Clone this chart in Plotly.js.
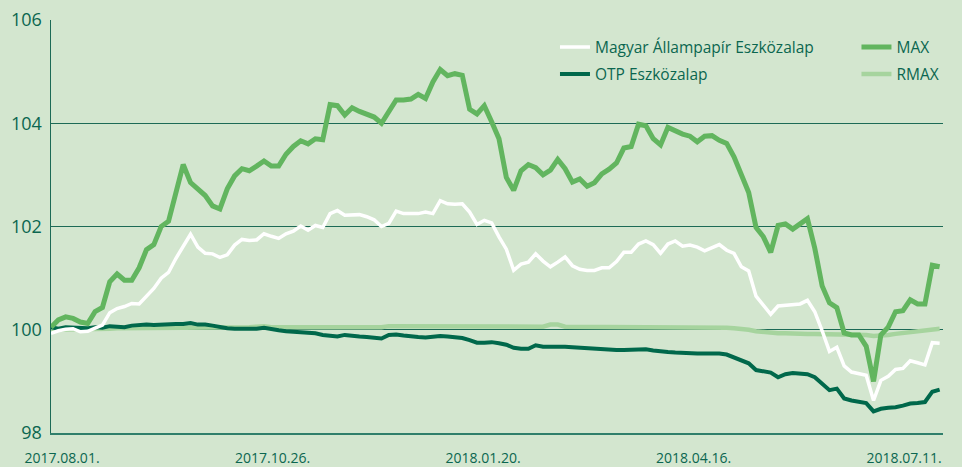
<!DOCTYPE html>
<html>
<head>
<meta charset="utf-8">
<script src="https://cdn.plot.ly/plotly-3.0.1.min.js"></script>
<style>html,body{margin:0;padding:0;background:#d3e6cf;}#chart{width:962px;height:467px;}</style>
</head>
<body>
<div id="chart"></div>
<script>
// Observation dates: every 3rd calendar day starting 2017-07-27 (noon)
const startDate = '2017-07-27T12:00:00Z';
const stepDays = 3;
const nPoints = 122;

const tickDates = ['2017-08-01', '2017-10-26', '2018-01-20', '2018-04-16', '2018-07-11'];
const tickLabels = ['2017.08.01.', '2017.10.26.', '2018.01.20.', '2018.04.16.', '2018.07.11.'];

const seriesNames = ['Magyar Állampapír Eszközalap', 'OTP Eszközalap', 'MAX', 'RMAX'];

const magyar = [
  99.93, 99.98, 100.01, 100.02, 99.96, 99.97, 100.03, 100.09, 100.33, 100.41,
  100.45, 100.51, 100.50, 100.65, 100.80, 101.00, 101.11, 101.38, 101.60, 101.85,
  101.60, 101.48, 101.47, 101.40, 101.45, 101.64, 101.75, 101.73, 101.74, 101.86,
  101.81, 101.77, 101.86, 101.91, 102.01, 101.93, 102.02, 101.98, 102.25, 102.31,
  102.22, 102.22, 102.23, 102.19, 102.13, 102.00, 102.06, 102.30, 102.25, 102.25,
  102.25, 102.28, 102.25, 102.50, 102.44, 102.43, 102.44, 102.28, 102.04, 102.12,
  102.07, 101.80, 101.56, 101.15, 101.27, 101.31, 101.47, 101.33, 101.22, 101.31,
  101.41, 101.24, 101.17, 101.15, 101.15, 101.20, 101.20, 101.32, 101.50, 101.50,
  101.66, 101.72, 101.65, 101.48, 101.66, 101.72, 101.62, 101.64, 101.60, 101.53,
  101.59, 101.65, 101.54, 101.48, 101.22, 101.14, 100.65, 100.47, 100.30, 100.46,
  100.47, 100.49, 100.50, 100.57, 100.35, 99.98, 99.58, 99.66, 99.30, 99.18,
  99.15, 99.12, 98.63, 99.02, 99.10, 99.23, 99.25, 99.40, 99.36, 99.32,
  99.75, 99.74
];

const otp = [
  100.05, 100.02, 100.05, 100.04, 100.04, 100.03, 100.05, 100.04, 100.07, 100.06,
  100.05, 100.08, 100.09, 100.10, 100.09, 100.10, 100.10, 100.11, 100.11, 100.13,
  100.10, 100.10, 100.08, 100.05, 100.03, 100.02, 100.02, 100.02, 100.02, 100.04,
  100.01, 99.99, 99.97, 99.96, 99.95, 99.95, 99.93, 99.90, 99.89, 99.87,
  99.90, 99.88, 99.87, 99.86, 99.85, 99.83, 99.90, 99.91, 99.89, 99.87,
  99.86, 99.85, 99.86, 99.88, 99.87, 99.86, 99.84, 99.80, 99.75, 99.75,
  99.76, 99.74, 99.71, 99.65, 99.63, 99.63, 99.70, 99.67, 99.67, 99.68,
  99.67, 99.66, 99.65, 99.64, 99.63, 99.62, 99.61, 99.61, 99.61, 99.61,
  99.61, 99.62, 99.60, 99.58, 99.57, 99.56, 99.55, 99.55, 99.54, 99.54,
  99.54, 99.54, 99.52, 99.46, 99.40, 99.35, 99.22, 99.20, 99.17, 99.08,
  99.14, 99.16, 99.15, 99.14, 99.08, 98.95, 98.83, 98.86, 98.67, 98.63,
  98.60, 98.58, 98.42, 98.47, 98.49, 98.50, 98.53, 98.57, 98.58, 98.60,
  98.80, 98.84
];

const max = [
  100.05, 100.19, 100.25, 100.22, 100.15, 100.12, 100.35, 100.43, 100.93, 101.08,
  100.96, 100.96, 101.20, 101.55, 101.65, 102.00, 102.10, 102.65, 103.20, 102.85,
  102.72, 102.60, 102.40, 102.34, 102.73, 102.98, 103.12, 103.08, 103.17, 103.27,
  103.17, 103.17, 103.40, 103.55, 103.66, 103.60, 103.70, 103.68, 104.36, 104.34,
  104.16, 104.30, 104.23, 104.17, 104.12, 104.00, 104.22, 104.45, 104.45, 104.47,
  104.56, 104.48, 104.80, 105.04, 104.92, 104.96, 104.93, 104.27, 104.18, 104.34,
  104.03, 103.70, 102.95, 102.70, 103.08, 103.20, 103.14, 103.00, 103.09, 103.30,
  103.12, 102.86, 102.92, 102.78, 102.85, 103.02, 103.11, 103.23, 103.52, 103.55,
  103.98, 103.95, 103.70, 103.58, 103.92, 103.85, 103.79, 103.75, 103.64, 103.75,
  103.76, 103.67, 103.61, 103.35, 102.98, 102.66, 101.98, 101.80, 101.50, 102.02,
  102.05, 101.95, 102.05, 102.15, 101.58, 100.85, 100.52, 100.43, 99.94, 99.90,
  99.90, 99.68, 99.00, 99.90, 100.05, 100.35, 100.37, 100.58, 100.50, 100.50,
  101.25, 101.22
];

const rmax = [
  100.00, 100.00, 100.01, 100.01, 100.02, 100.02, 100.02, 100.02, 100.02, 100.03,
  100.03, 100.03, 100.03, 100.04, 100.04, 100.04, 100.04, 100.04, 100.04, 100.04,
  100.04, 100.04, 100.04, 100.05, 100.05, 100.05, 100.05, 100.05, 100.06, 100.07,
  100.05, 100.05, 100.05, 100.05, 100.04, 100.04, 100.04, 100.04, 100.04, 100.04,
  100.04, 100.04, 100.04, 100.05, 100.05, 100.05, 100.07, 100.07, 100.07, 100.07,
  100.07, 100.07, 100.07, 100.07, 100.07, 100.07, 100.07, 100.07, 100.07, 100.07,
  100.07, 100.06, 100.06, 100.06, 100.06, 100.06, 100.06, 100.06, 100.10, 100.10,
  100.06, 100.06, 100.06, 100.06, 100.06, 100.06, 100.06, 100.06, 100.06, 100.06,
  100.06, 100.06, 100.06, 100.05, 100.05, 100.05, 100.05, 100.05, 100.05, 100.05,
  100.05, 100.05, 100.04, 100.03, 100.02, 100.00, 99.97, 99.95, 99.94, 99.93,
  99.93, 99.92, 99.92, 99.92, 99.92, 99.92, 99.92, 99.92, 99.92, 99.92,
  99.92, 99.90, 99.88, 99.88, 99.90, 99.92, 99.94, 99.95, 99.97, 99.98,
  100.00, 100.02
];

const dates = [];
const t0 = Date.parse(startDate);
for (let i = 0; i < nPoints; i++) {
  dates.push(new Date(t0 + i * stepDays * 86400000).toISOString().slice(0, 16).replace('T', ' '));
}

const TEXT = '#0b6650';
const FONT = '"Open Sans", "Noto Sans", sans-serif';

const traces = [
  {x: dates, y: rmax, name: seriesNames[3], type: 'scatter', mode: 'lines',
   line: {color: '#a6d49e', width: 4.5}, legend: 'legend2', legendrank: 2, legendgroup: 'g4'},
  {x: dates, y: otp, name: seriesNames[1], type: 'scatter', mode: 'lines',
   line: {color: '#00684b', width: 4}, legend: 'legend', legendrank: 2, legendgroup: 'g2'},
  {x: dates, y: magyar, name: seriesNames[0], type: 'scatter', mode: 'lines',
   line: {color: '#ffffff', width: 3.5}, legend: 'legend', legendrank: 1, legendgroup: 'g1'},
  {x: dates, y: max, name: seriesNames[2], type: 'scatter', mode: 'lines',
   line: {color: '#62b55f', width: 5}, legend: 'legend2', legendrank: 1, legendgroup: 'g3'}
];

const legendCommon = {
  orientation: 'v', xanchor: 'left', yanchor: 'top', bgcolor: 'rgba(0,0,0,0)',
  borderwidth: 0, tracegroupgap: 4, traceorder: 'grouped',
  font: {family: FONT, size: 15.5, color: TEXT}
};

const layout = {
  width: 962, height: 467,
  margin: {l: 51, r: 19, t: 20, b: 34, pad: 0},
  paper_bgcolor: '#d3e6cf', plot_bgcolor: '#d3e6cf',
  font: {family: FONT, color: TEXT},
  showlegend: true,
  legend: Object.assign({}, legendCommon, {x: 0.565, y: 0.975}),
  legend2: Object.assign({}, legendCommon, {x: 0.903, y: 0.975}),
  xaxis: {
    type: 'date',
    range: ['2017-07-27 12:00', '2018-07-26 21:00'],
    tickvals: tickDates, ticktext: tickLabels,
    showgrid: false, zeroline: false,
    showline: true, linecolor: '#2f7f6b', linewidth: 1.5,
    ticks: '', ticklabelstandoff: 12,
    tickfont: {family: FONT, size: 14, color: TEXT}
  },
  yaxis: {
    range: [98, 106], dtick: 2, tick0: 98,
    showgrid: true, gridcolor: '#1c6a56', gridwidth: 1.3,
    zeroline: false, showline: true, linecolor: '#1c6a56', linewidth: 1.5,
    ticks: '', ticklabelstandoff: 4,
    tickfont: {family: FONT, size: 18, color: TEXT}
  }
};

Plotly.newPlot('chart', traces, layout, {displayModeBar: false, staticPlot: true});
</script>
</body>
</html>
